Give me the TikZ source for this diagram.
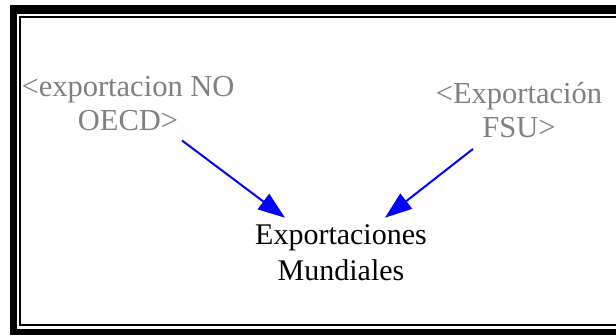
\documentclass[tikz,border=0pt]{standalone}
\usepackage{fontspec}
\setmainfont{Liberation Serif}
\usetikzlibrary{arrows.meta,calc}
\definecolor{labgray}{RGB}{128,128,128}
\definecolor{arrblue}{RGB}{0,0,255}
\tikzset{
  lab/.style={inner sep=0pt, align=center, text=labgray, font=\fontsize{30.5}{34}\selectfont},
  mainlab/.style={inner sep=0pt, align=center, text=black, font=\fontsize{30}{36}\selectfont},
  arr/.style={draw=arrblue, line width=2pt, -{Triangle[length=27pt,width=19pt]}, arrblue}
}
\begin{document}
\begin{tikzpicture}[x=1pt,y=-1pt]
\useasboundingbox (0,0) rectangle (616,335);
% frame
\fill[black] (10,5) rectangle (17,335);
\fill[black] (10,5) rectangle (616,14);
\fill[black] (10,328.5) rectangle (616,335);
\fill[black] (19,16) rectangle (21,326);
\fill[black] (19,16) rectangle (616,17.8);
\fill[black] (19,324) rectangle (616,326);
% labels
\node[lab] (L) at (128,104) {<exportacion NO\\OECD>};
\node[lab] (R) at (519,110) {<Exportación\\FSU>};
\node[mainlab] (B) at (341,253) {Exportaciones\\Mundiales};
% arrows
\draw[arr] ($(L.south)+(54,9)$) -- ($(B.north)+(-56,-7)$);
\draw[arr] ($(R.south)+(-46,11)$) -- ($(B.north)+(44,-7)$);
\end{tikzpicture}
\end{document}
